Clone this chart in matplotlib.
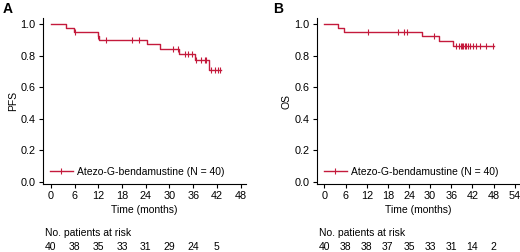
import numpy as np
import matplotlib.pyplot as plt

plt.rcParams['font.family'] = ['Liberation Sans', 'DejaVu Sans']

# PFS (panel A): step times / survival after step, censor times
pfs_step_t = [0, 3.7, 5.75, 11.8, 12.25, 24.2, 27.5, 32.4, 36.4, 39.9]
pfs_step_s = [1.0, 0.975, 0.95, 0.925, 0.90, 0.871, 0.84, 0.81, 0.775, 0.71]
pfs_end = 43.0
pfs_cens = [6.0, 11.9, 13.9, 20.6, 22.25, 31.0, 32.2, 33.9, 34.75, 35.6,
            36.8, 38.1, 38.9, 39.3, 40.6, 41.5, 42.25, 42.9]

# OS (panel B)
os_step_t = [0, 3.8, 5.6, 27.8, 32.5, 36.5]
os_step_s = [1.0, 0.975, 0.95, 0.925, 0.893, 0.862]
os_end = 48.0
os_cens = [12.5, 21.0, 22.6, 23.5, 31.0, 37.2, 38.1, 38.7, 39.1, 39.4,
           39.8, 40.3, 40.8, 41.2, 42.2, 43.1, 44.1, 45.8, 47.8]

pfs_ticks = [0, 6, 12, 18, 24, 30, 36, 42, 48]
pfs_risk = [40, 38, 35, 33, 31, 29, 24, 5]
os_ticks = [0, 6, 12, 18, 24, 30, 36, 42, 48, 54]
os_risk = [40, 38, 38, 37, 35, 33, 31, 14, 2]

color = "#c41a3c"
label = "Atezo-G-bendamustine (N = 40)"


def surv_at(t, st, ss):
    idx = np.searchsorted(st, t, side="right") - 1
    return np.array(ss)[idx]


def km_panel(ax, st, ss, end, cens, ticks, risk, xlim, ylab):
    xs = list(st) + [end]
    ys = list(ss) + [ss[-1]]
    ax.step(xs, ys, where="post", color=color, lw=1.0)
    cy = surv_at(np.array(cens), st, ss)
    ax.plot(cens, cy, ls="none", marker="|", ms=4, mew=0.8, color=color)
    ax.plot([], [], color=color, lw=1.0, marker="|", ms=5, mew=0.8, label=label)
    ax.set_xlim(*xlim)
    ax.set_ylim(-0.017, 1.039)
    ax.set_xticks(ticks)
    ax.set_yticks([0, 0.2, 0.4, 0.6, 0.8, 1.0])
    ax.set_yticklabels(["0.0", "0.2", "0.4", "0.6", "0.8", "1.0"])
    for s in ["top", "right"]:
        ax.spines[s].set_visible(False)
    ax.tick_params(labelsize=7.8, length=3, width=0.8, pad=2)
    ax.set_xlabel("Time (months)", fontsize=7.5, labelpad=3)
    ax.set_ylabel(ylab, fontsize=7.5, labelpad=2)
    ax.legend(loc="lower left", bbox_to_anchor=(0.0, 0.0), frameon=False,
              fontsize=7.5, handlelength=2.2, handletextpad=0.4,
              borderaxespad=0.3)
    tr = ax.get_xaxis_transform()
    ax.text(0.01, -0.295, "No. patients at risk", transform=ax.transAxes,
            fontsize=7.5, ha="left", va="center")
    for t, n in zip(ticks, risk):
        ax.text(t, -0.375, str(n), transform=tr, fontsize=7.5,
                ha="center", va="center")


fig = plt.figure(figsize=(5.2, 2.52), dpi=100)
axA = fig.add_axes([0.0821, 0.2687, 0.3904, 0.66])
axB = fig.add_axes([0.609, 0.2687, 0.389, 0.66])

km_panel(axA, pfs_step_t, pfs_step_s, pfs_end, pfs_cens, pfs_ticks, pfs_risk,
         (-2.1, 49.3), "PFS")
km_panel(axB, os_step_t, os_step_s, os_end, os_cens, os_ticks, os_risk,
         (-2.2, 55.2), "OS")

fig.text(3 / 520, 1 - 2 / 252, "A", fontsize=10, fontweight="bold",
         ha="left", va="top")
fig.text(273 / 520, 1 - 2 / 252, "B", fontsize=10, fontweight="bold",
         ha="left", va="top")

fig.savefig("out.png", dpi=100)
